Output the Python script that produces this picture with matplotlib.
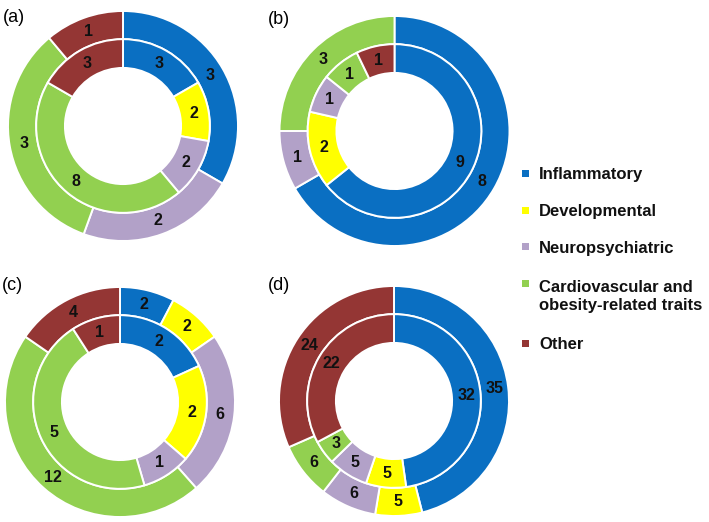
import matplotlib
matplotlib.use("Agg")
import matplotlib.pyplot as plt

plt.rcParams['font.family'] = ['Liberation Sans', 'DejaVu Sans']

# categories and colours
categories = ['Inflammatory', 'Developmental', 'Neuropsychiatric',
              'Cardiovascular and\nobesity-related traits', 'Other']
colors = ['#0a6fc2', '#ffff00', '#b2a1c8', '#92d050', '#943634']

# ring values, in category order (0 = not present)
outer_a = [3, 0, 2, 3, 1]
inner_a = [3, 2, 2, 8, 3]
outer_b = [8, 0, 1, 3, 0]
inner_b = [9, 2, 1, 1, 1]
outer_c = [2, 2, 6, 12, 4]
inner_c = [2, 2, 1, 5, 1]
outer_d = [35, 5, 6, 6, 24]
inner_d = [32, 5, 5, 3, 22]

panels = ['(a)', '(b)', '(c)', '(d)']
rings = [(outer_a, inner_a), (outer_b, inner_b), (outer_c, inner_c), (outer_d, inner_d)]

W, H = 709, 522
fig = plt.figure(figsize=(W / 100, H / 100), dpi=100)

# pixel centres of each donut, radius
centres = [(123, 126), (394.5, 131), (120, 402), (394, 401)]
R = 115
r_mid = 0.755
r_hole = 0.505
label_pos = [(3, 17), (268, 20), (2, 285), (268, 285)]


def ring(ax, vals, radius, width):
    v = [x for x in vals if x > 0]
    c = [col for x, col in zip(vals, colors) if x > 0]
    wedges, _, autotexts = ax.pie(
        v, colors=c, radius=radius, startangle=90, counterclock=False,
        wedgeprops=dict(width=width, edgecolor='white', linewidth=1.4),
        autopct=lambda p, t=sum(v): '%d' % round(p * t / 100.0),
        pctdistance=(radius - width / 2.0) / radius,
        textprops=dict(fontsize=11.5, color='#111111', fontweight='bold'))
    return wedges


for (cx, cy), (outer, inner), lab, (lx, ly) in zip(centres, rings, panels, label_pos):
    ax = fig.add_axes([(cx - R) / W, (H - cy - R) / H, 2 * R / W, 2 * R / H])
    ring(ax, outer, 1.0, 1.0 - r_mid)
    ring(ax, inner, r_mid, r_mid - r_hole)
    ax.set_xlim(-1, 1)
    ax.set_ylim(-1, 1)
    ax.set_aspect('equal')
    ax.axis('off')
    fig.text(lx / W, 1 - ly / H, lab, fontsize=13, va='center', ha='left')

# legend drawn by hand
leg_rows = [173, 210, 247, 283, 343]
line_gap = 21
for cat, col, y in zip(categories, colors, leg_rows):
    fig.patches.append(plt.Rectangle(((521.5) / W, 1 - (y + 3.5) / H), 7 / W, 7 / H,
                                     transform=fig.transFigure, facecolor=col,
                                     edgecolor='none', figure=fig))
    # baseline of the last line of the label
    yb = y + 6 + line_gap * cat.count('\n')
    fig.text(539 / W, 1 - yb / H, cat, fontsize=12, fontweight='bold',
             va='baseline', ha='left', color='#111111', linespacing=1.25)

fig.savefig('out.png', dpi=100)
